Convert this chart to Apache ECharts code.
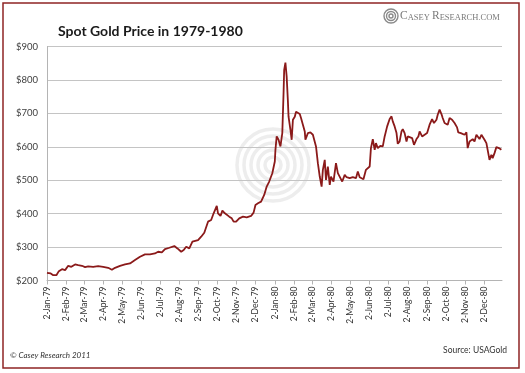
<!DOCTYPE html>
<html><head><meta charset="utf-8">
<script src="https://cdn.jsdelivr.net/npm/echarts@6/dist/echarts.min.js"></script>
<style>html,body{margin:0;padding:0;background:#fff}#c{width:525px;height:373px}</style>
</head><body><div id="c"></div><script>
const dates = ['1979-01-02','1979-01-08','1979-01-12','1979-01-17','1979-01-21','1979-01-26','1979-01-31',
'1979-02-05','1979-02-10','1979-02-16','1979-02-21','1979-02-27','1979-03-04','1979-03-09','1979-03-17','1979-03-25',
'1979-04-02','1979-04-10','1979-04-16','1979-04-21','1979-04-29','1979-05-07','1979-05-15','1979-05-23','1979-05-31',
'1979-06-08','1979-06-16','1979-06-24','1979-06-29','1979-07-05','1979-07-10','1979-07-17','1979-07-25','1979-07-30',
'1979-08-05','1979-08-09','1979-08-13','1979-08-18','1979-08-23','1979-09-01','1979-09-06','1979-09-11','1979-09-17',
'1979-09-22','1979-09-26','1979-10-01','1979-10-03','1979-10-07','1979-10-10','1979-10-14','1979-10-17','1979-10-21',
'1979-10-25','1979-10-28','1979-11-01','1979-11-06','1979-11-12','1979-11-18','1979-11-25','1979-11-29','1979-12-02',
'1979-12-06','1979-12-11','1979-12-16','1979-12-20','1979-12-24','1979-12-29','1980-01-02','1980-01-03','1980-01-05',
'1980-01-08','1980-01-11','1980-01-14','1980-01-16','1980-01-17','1980-01-19','1980-01-21','1980-01-23','1980-01-24',
'1980-01-27','1980-01-29','1980-01-31','1980-02-03','1980-02-05','1980-02-08','1980-02-11','1980-02-13','1980-02-16',
'1980-02-19','1980-02-20','1980-02-24','1980-02-28','1980-03-03','1980-03-06','1980-03-08','1980-03-11','1980-03-14',
'1980-03-17','1980-03-19','1980-03-22','1980-03-24','1980-03-27','1980-03-30','1980-04-01','1980-04-05','1980-04-09',
'1980-04-12','1980-04-15','1980-04-19','1980-04-23','1980-04-26','1980-05-01','1980-05-06','1980-05-11','1980-05-14',
'1980-05-17','1980-05-19','1980-05-23','1980-05-27','1980-06-02','1980-06-04','1980-06-07','1980-06-10','1980-06-12',
'1980-06-15','1980-06-19','1980-06-23','1980-06-26','1980-06-30','1980-07-04','1980-07-07','1980-07-09','1980-07-12',
'1980-07-15','1980-07-17','1980-07-20','1980-07-23','1980-07-25','1980-07-28','1980-07-31','1980-08-02','1980-08-05',
'1980-08-09','1980-08-12','1980-08-16','1980-08-19','1980-08-21','1980-08-25','1980-08-29','1980-09-02','1980-09-06',
'1980-09-10','1980-09-13','1980-09-17','1980-09-19','1980-09-22','1980-09-25','1980-09-27','1980-09-30','1980-10-03',
'1980-10-05','1980-10-08','1980-10-12','1980-10-16','1980-10-20','1980-10-22','1980-10-26','1980-10-29','1980-11-01',
'1980-11-04','1980-11-06','1980-11-09','1980-11-12','1980-11-14','1980-11-17','1980-11-20','1980-11-22','1980-11-25',
'1980-11-28','1980-12-01','1980-12-03','1980-12-06','1980-12-09','1980-12-11','1980-12-14','1980-12-16','1980-12-19',
'1980-12-22','1980-12-26','1980-12-30'];
const prices = [223,221,216,216,228,234,231,
244,241,248,246,244,240,242,241,243,
241,238,232,238,244,248,251,261,271,
278,278,281,286,284,294,298,303,296,
286,291,301,296,316,321,331,343,376,
381,401,423,401,393,409,401,396,391,
386,376,376,386,391,389,393,403,426,
431,436,456,481,496,521,556,591,631,
621,601,641,760,830,852,810,735,690,
651,621,681,690,705,708,698,686,666,
646,621,641,643,636,641,601,551,511,
481,531,561,501,541,486,511,496,551,
521,526,496,516,509,506,509,506,526,
509,513,503,531,541,596,623,591,611,
596,603,601,631,661,683,691,676,661,
641,609,616,646,653,641,616,631,626,
626,606,623,631,646,631,636,641,666,
683,671,681,696,711,698,686,671,676,
666,686,681,671,658,643,641,646,636,
643,596,616,611,623,616,636,631,623,
636,631,621,611,616,561,576,566,581,
599,596,591];
const tickLabels = ['2-Jan-79','2-Feb-79','2-Mar-79','2-Apr-79','2-May-79','2-Jun-79','2-Jul-79','2-Aug-79',
'2-Sep-79','2-Oct-79','2-Nov-79','2-Dec-79','2-Jan-80','2-Feb-80','2-Mar-80','2-Apr-80','2-May-80','2-Jun-80',
'2-Jul-80','2-Aug-80','2-Sep-80','2-Oct-80','2-Nov-80','2-Dec-80'];
const yTicks = [200,300,400,500,600,700,800,900];

const DAY = 86400000;
const origin = Date.UTC(1979, 0, 2);
const dayIndex = (y, m, d) => Math.round((Date.UTC(y, m, d) - origin) / DAY);
const monNames = ['Jan','Feb','Mar','Apr','May','Jun','Jul','Aug','Sep','Oct','Nov','Dec'];
const tickValues = tickLabels.map(s => {
  const p = s.split('-');
  return dayIndex(1900 + (+p[2]), monNames.indexOf(p[1]), +p[0]);
});
const labelMap = {};
tickValues.forEach((v, i) => labelMap[v] = tickLabels[i]);
const seriesData = dates.map((d, i) => {
  const p = d.split('-');
  return [dayIndex(+p[0], +p[1] - 1, +p[2]), prices[i]];
});

const chart = echarts.init(document.getElementById('c'), null, {renderer: 'canvas'});
const font = 'Lato, "Open Sans", sans-serif';
chart.setOption({
  animation: false,
  backgroundColor: '#fff',
  title: {
    text: 'Spot Gold Price in 1979-1980', left: 53, top: 19,
    textStyle: {fontFamily: font, fontSize: 14, fontWeight: 'bold', color: '#1a1a1a'}
  },
  grid: {left: 47, right: 23, top: 46.5, bottom: 92.5, containLabel: false},
  xAxis: {
    type: 'value',
    min: 0,
    max: dayIndex(1980, 11, 31),
    axisLine: {lineStyle: {color: '#b4b4b4', width: 1}},
    axisTick: {show: true, customValues: tickValues, length: 4, lineStyle: {color: '#b4b4b4'}},
    axisLabel: {
      customValues: tickValues, rotate: 90, margin: 6,
      formatter: v => labelMap[v] || '',
      fontFamily: font, fontSize: 8.5, color: '#333'
    },
    splitLine: {show: false}
  },
  yAxis: {
    type: 'value', min: yTicks[0], max: yTicks[yTicks.length - 1], interval: 100,
    axisLine: {show: true, lineStyle: {color: '#b4b4b4'}},
    axisTick: {show: false},
    axisLabel: {formatter: v => '$' + v, fontFamily: font, fontSize: 9.5, color: '#404040', margin: 9},
    splitLine: {lineStyle: {color: '#c4c4c4', width: 1}}
  },
  series: [{
    type: 'line', data: seriesData, showSymbol: false, z: 5,
    lineStyle: {color: '#8b1a1a', width: 1.8}
  }],
  graphic: [
    {type: 'rect', shape: {x: 3, y: 3, width: 516, height: 365}, style: {fill: 'none', stroke: '#8e2424', lineWidth: 1.5}, z: 10},
    {type: 'group', z: 1, children: [8, 15, 22, 29, 36].map(r => ({
      type: 'circle', shape: {cx: 273, cy: 165, r: r},
      style: {fill: 'none', stroke: 'rgba(175,175,175,0.22)', lineWidth: 3.5}
    }))},
    {type: 'group', z: 10, children: [2, 4.5, 7].map(r => ({
      type: 'circle', shape: {cx: 391, cy: 16, r: r},
      style: {fill: 'none', stroke: '#8a8a8a', lineWidth: 1.4}
    }))},
    {type: 'text', x: 400, y: 10, z: 10, style: {
      text: '{b|C}{s|ASEY }{b|R}{s|ESEARCH.COM}',
      rich: {
        b: {fontFamily: '"Liberation Serif", serif', fontSize: 11.5, fill: '#7a7a7a', verticalAlign: 'bottom'},
        s: {fontFamily: '"Liberation Serif", serif', fontSize: 8.5, fill: '#7a7a7a', verticalAlign: 'bottom'}
      }
    }},
    {type: 'text', x: 10, y: 351, z: 10, style: {text: '© Casey Research 2011', font: 'italic 8px ' + font, fill: '#333'}},
    {type: 'text', x: 507, y: 346, z: 10, style: {text: 'Source: USAGold', font: '8.5px ' + font, fill: '#333', align: 'right'}}
  ]
});
</script></body></html>
